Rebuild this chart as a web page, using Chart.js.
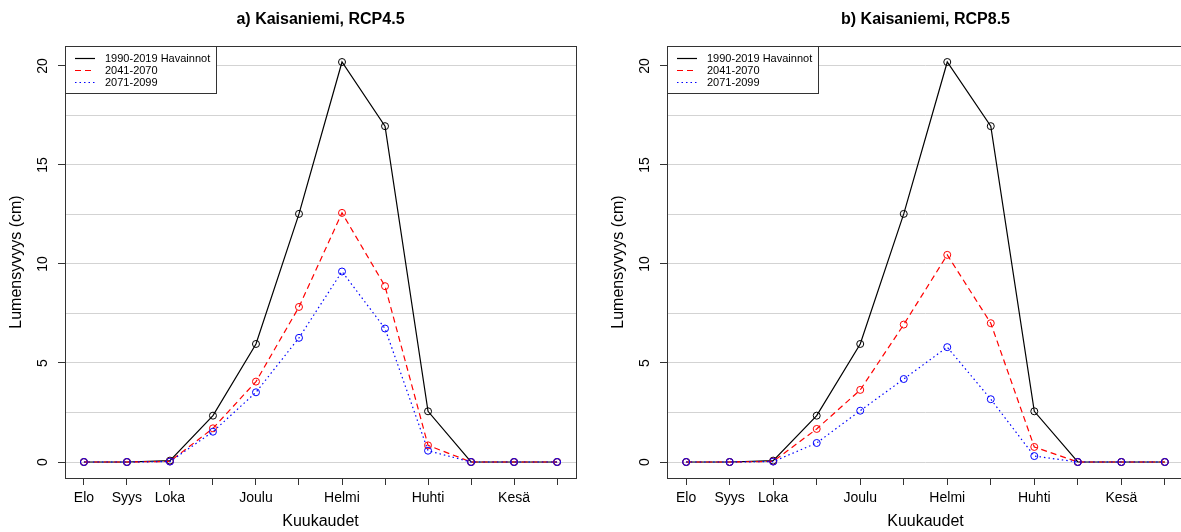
<!DOCTYPE html>
<html><head><meta charset="utf-8">
<script src="https://cdn.jsdelivr.net/npm/chart.js@4.4.1/dist/chart.umd.min.js"></script>
<style>
html,body{margin:0;padding:0;background:#fff;width:1181px;height:532px;overflow:hidden;position:relative}
.p{position:absolute;top:0;height:532px}
#wa{left:0;width:590px}
#wb{left:602px;width:600px}
</style></head><body>
<div class="p" id="wa"><canvas id="ca"></canvas></div>
<div class="p" id="wb"><canvas id="cb"></canvas></div>
<script>
// kuukaudet elokuusta heinäkuuhun, R jätti osan nimistä pois
const months=['Elo','Syys','Loka','','Joulu','','Helmi','','Huhti','','Kesä',''];
const obs=[0,0,0.07,2.34,5.96,12.53,20.2,16.96,2.56,0,0,0];
const rcp45mid=[0,0,0.03,1.70,4.06,7.83,12.58,8.88,0.84,0,0,0];
const rcp45end=[0,0,0.02,1.53,3.52,6.27,9.62,6.74,0.57,0,0,0];
const rcp85mid=[0,0,0.03,1.67,3.64,6.94,10.46,7.01,0.76,0,0,0];
const rcp85end=[0,0,0.02,0.96,2.59,4.19,5.80,3.17,0.30,0,0,0];
const yGrid=[0,2.5,5,7.5,10,12.5,15,17.5,20];
const names=['1990-2019 Havainnot','2041-2070','2071-2099'];

const FF='"Liberation Sans", Arial, Helvetica, sans-serif';
Chart.defaults.font.family=FF;
Chart.defaults.color='#000';

/* R-tyylinen laatikko, otsikko ja selite */
const rFrame={id:'rFrame',afterDraw(ch,args,o){
  const {ctx,chartArea:a}=ch;ctx.save();
  ctx.strokeStyle='#333';ctx.lineWidth=1;
  ctx.strokeRect(Math.round(a.left)+.5,Math.round(a.top)+.5,Math.round(a.right-a.left),Math.round(a.bottom-a.top));
  ctx.fillStyle='#000';ctx.font='bold 16px '+FF;ctx.textAlign='center';ctx.textBaseline='middle';
  ctx.fillText(o.title,(a.left+a.right)/2,20);
  ctx.font='11px '+FF;
  const tw=Math.max(...ch.data.datasets.map(d=>ctx.measureText(d.label).width));
  const lx=Math.round(a.left),ly=Math.round(a.top),w=Math.round(40+tw+6),h=47;
  ctx.fillStyle='#fff';ctx.fillRect(lx,ly,w,h);
  ctx.strokeStyle='#333';ctx.strokeRect(lx+.5,ly+.5,w,h);
  ctx.textAlign='left';
  ch.data.datasets.forEach((d,i)=>{
    const y=ly+12.5+i*12;
    ctx.strokeStyle=d.borderColor;ctx.lineWidth=d.borderWidth;ctx.setLineDash(d.borderDash||[]);
    ctx.beginPath();ctx.moveTo(lx+10,y);ctx.lineTo(lx+30,y);ctx.stroke();ctx.setLineDash([]);
    ctx.fillStyle='#000';ctx.fillText(d.label,lx+40,y);
  });
  ctx.restore();
}};

function ds(label,vals,color,dash,order){
  return {label,data:vals.map((v,i)=>({x:i+1,y:v})),borderColor:color,borderDash:dash,borderWidth:1.2,
    pointRadius:3.5,pointBorderWidth:1,pointBackgroundColor:'rgba(0,0,0,0)',pointBorderColor:color,
    tension:0,fill:false,order};
}

function makeChart(id,title,mid,end,padRight){
  return new Chart(document.getElementById(id),{type:'line',
    data:{datasets:[ds(names[0],obs,'#000000',[],3),ds(names[1],mid,'#ff0000',[6,4],2),ds(names[2],end,'#0000ff',[1.5,3],1)]},
    options:{responsive:true,maintainAspectRatio:false,animation:false,events:[],
      layout:{padding:{top:46,right:padRight,left:0,bottom:0}},
      plugins:{legend:{display:false},tooltip:{enabled:false},rFrame:{title}},
      scales:{
        x:{type:'linear',min:0.56,max:12.44,
          afterBuildTicks:s=>{s.ticks=months.map((m,i)=>({value:i+1}));},
          afterFit:s=>{s.height=54;},
          ticks:{autoSkip:false,maxRotation:0,minRotation:0,padding:5,color:'#000',font:{size:14},callback:v=>months[v-1]},
          grid:{drawOnChartArea:false,tickLength:7,tickColor:'#333',tickWidth:1},
          border:{display:false},
          title:{display:true,text:'Kuukaudet',color:'#000',font:{size:16},padding:{top:0,bottom:1}}},
        y:{min:-0.808,max:21.008,
          afterBuildTicks:s=>{s.ticks=yGrid.map(v=>({value:v}));},
          afterFit:s=>{s.width=65;},
          ticks:{minRotation:90,maxRotation:90,crossAlign:'center',padding:7,color:'#000',font:{size:14},
            callback:v=>v%5===0?String(v):''},
          grid:{color:'#d3d3d3',lineWidth:1,tickLength:7,
            tickColor:c=>(c.tick&&c.tick.value%5===0)?'#333':'rgba(0,0,0,0)'},
          border:{display:false},
          title:{display:true,text:'Lumensyvyys (cm)',color:'#000',font:{size:16},padding:{top:7,bottom:0}}}
      }},
    plugins:[rFrame]});
}

makeChart('ca','a) Kaisaniemi, RCP4.5',rcp45mid,rcp45end,14);
makeChart('cb','b) Kaisaniemi, RCP8.5',rcp85mid,rcp85end,18);
</script>
</body></html>
